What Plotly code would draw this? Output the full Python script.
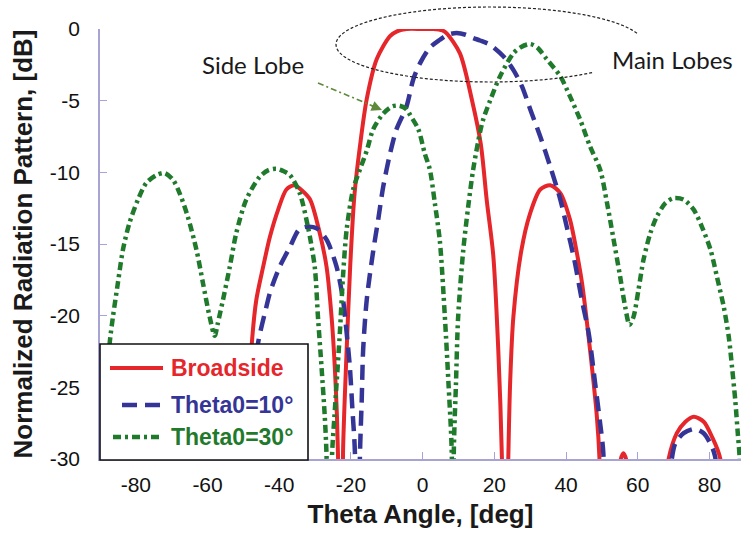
import numpy as np
import plotly.graph_objects as go

# ---------------- data ----------------
broadside_theta = [-90, -85, -83, -80.7, -78.4, -75.6, -73.3, -70.9, -68.6, -63, -58.5, -57, -56, -55, -53.5,
                   -50, -49.3, -48.7, -47.7, -46.4, -44.5, -42.6, -40.3, -38, -35.8, -33.5, -31.4, -28.7, -26.8,
                   -25.4, -24.5, -23.9, -23.6, -22.9, -22.2, -21.2, -20.2, -19, -17.5, -15.6, -12.8, -9.1, -7,
                   -4.5, 0, 3, 5.5, 6.7, 10.4, 13.7, 16.2, 17.9, 19.7, 21.1, 22.1, 22.9, 23.9, 24.4, 25.3, 27.5,
                   30, 32.8, 35.6, 38.4, 41.1, 43, 44.5, 46.7, 48.6, 49.3, 50, 53.5, 55, 56, 57, 58.5, 63, 68.6,
                   70.9, 73.3, 75.6, 78.4, 80.7, 83, 85, 89]
broadside_db = [-34, -40, -30, -28.45, -27.4, -27.05, -27.4, -28.2, -30, -42, -40, -30.3, -29.6, -30.3, -40,
                -40, -29.9, -27, -22.1, -18.9, -16.6, -14.5, -12.6, -11.2, -10.9, -11.3, -11.9, -14.25, -16.6,
                -20.1, -23.6, -27.05, -29.85, -45, -29.4, -22.4, -16.5, -11.5, -8.2, -4.9, -2.1, -0.5, -0.15,
                0, 0, 0, -0.1, -0.3, -1.7, -4.9, -8.0, -12.0, -15.8, -22.4, -29.85, -45, -29.85, -24.7, -20.1,
                -15.5, -12.85, -11.2, -10.9, -11.45, -13.3, -15.6, -17.8, -22.4, -27.05, -29.85, -40, -40,
                -30.3, -29.6, -30.3, -40, -42, -30, -28.2, -27.4, -27.05, -27.4, -28.45, -29.96, -40, -34]

theta10_theta = [-90, -85, -78, -72, -62, -55, -50, -48, -47, -45.9, -43.6, -42.6, -39.9, -37, -34.5, -32.4,
                 -29.6, -26.8, -24, -22.2, -21.2, -20.3, -19.6, -18.9, -18.3, -17.5, -17, -16.6, -15.6, -13.8,
                 -12.4, -11, -9.1, -7.3, -4.5, -2.6, -0.75, 2, 4.8, 7, 9.5, 12, 14.1, 16, 18.8, 22.5, 25.3,
                 27.7, 30, 32.8, 35.6, 38.4, 40.2, 42.3, 44.4, 46.3, 48.1, 49.5, 50.4, 51, 60, 65, 69.5, 70.5,
                 72.8, 76, 78.4, 80.2, 81.6, 82.5, 89]
theta10_db = [-35, -40, -31, -40, -33, -45, -30, -27, -24.5, -21.9, -19.4, -18.4, -16.6, -15.2, -14.0, -13.8,
              -13.9, -14.7, -16.6, -18.9, -21.2, -23.6, -26.5, -29.5, -45, -29.85, -25.9, -22.4, -18.9, -15.5,
              -13.3, -11.0, -8.7, -7.0, -5.4, -3.5, -2.4, -1.3, -0.75, -0.4, -0.28, -0.4, -0.63, -0.8, -1.1,
              -1.9, -2.85, -4.0, -5.6, -7.5, -9.6, -11.9, -13.8, -16.1, -18.9, -21.2, -24.7, -27.5, -29.6,
              -45, -36, -45, -30, -28.9, -28.2, -27.9, -28.2, -28.9, -29.85, -40, -36]

theta30_theta = [-90, -87.3, -86.4, -85, -83.6, -81.8, -79.4, -77.1, -74.3, -72, -69.7, -67.8, -65.5, -63.1,
                 -61.3, -59.4, -58, -57.2, -55.7, -53.8, -52, -49.2, -45.4, -43, -40.8, -39, -37, -34.3, -32,
                 -30.1, -29.2, -28.2, -27.3, -26.8, -26, -25.3, -24.6, -24, -23.1, -22.2, -21.2, -19.4, -17.5,
                 -15.6, -13.8, -11, -8.5, -6.5, -4.5, -3.5, -1.2, 0.6, 2, 3.4, 4.8, 6.2, 7.2, 8.1, 8.5, 8.7,
                 9.3, 9.9, 11.3, 12.7, 14.1, 16, 16.9, 18.8, 21.6, 25.3, 27.5, 30, 32, 34.6, 38.4, 41.1, 43.9,
                 46.7, 49.5, 51.4, 53.2, 55.1, 56.5, 57.7, 58.8, 60.2, 61.6, 63.5, 65.3, 67.7, 70, 72.8, 75.6,
                 77.9, 80.3, 82.1, 84, 85.4, 86.3, 87.2, 87.9, 88.4, 89]
theta30_db = [-30, -21.9, -20.1, -17.7, -15.4, -13.55, -11.9, -10.75, -10.2, -10.05, -10.5, -11.45, -13.1,
              -15.4, -17.7, -20.1, -21.4, -20.6, -18.9, -16.6, -14.25, -11.9, -10.3, -9.85, -9.75, -9.9,
              -10.2, -11.45, -13.8, -16.6, -20.1, -23.6, -27.05, -29.85, -45, -29.9, -27.0, -24.7, -21.2,
              -17.2, -14.0, -11.2, -9.8, -8.5, -7.0, -5.9, -5.4, -5.35, -5.6, -6.0, -7.0, -8.7, -9.8, -12.15,
              -14.8, -20.1, -24.7, -29.4, -45, -29.4, -24.7, -20.1, -15.5, -12.4, -9.8, -7.2, -6.3, -5.0,
              -3.3, -1.7, -1.25, -1.05, -1.3, -2.1, -3.3, -4.7, -6.3, -8.2, -9.8, -12.1, -14.6, -17.3, -19.4,
              -20.65, -20.1, -18.2, -16.1, -14.25, -13.1, -12.15, -11.8, -11.9, -12.6, -13.8, -15.4, -17.3,
              -19.4, -21.5, -23.6, -25.9, -28.2, -29.85, -40]

x_ticks = [-80, -60, -40, -20, 0, 20, 40, 60, 80]
y_ticks = [0, -5, -10, -15, -20, -25, -30]
series_names = ["Broadside", "Theta0=10°", "Theta0=30°"]

# ---------------- styling ----------------
RED = "#e5262b"
BLUE = "#353597"
GREEN = "#1f7a2b"
AXIS = "#a7a3d4"
FONT = "Liberation Sans, Arial, sans-serif"
NOTE_FONT = "Lato, Noto Sans, sans-serif"

W, H = 741, 533
ML, MR, MT, MB = 100, 0, 29, 74
PW, PH = W - ML - MR, H - MT - MB


def px(x):
    return (x - ML) / PW


def py(y):
    return (H - MB - y) / PH


fig = go.Figure()
fig.add_trace(go.Scatter(x=broadside_theta, y=broadside_db, mode="lines", name=series_names[0],
                         line=dict(color=RED, width=4, shape="spline", smoothing=0.8)))
fig.add_trace(go.Scatter(x=theta10_theta, y=theta10_db, mode="lines", name=series_names[1],
                         line=dict(color=BLUE, width=4.5, dash="15px,8px", shape="spline", smoothing=0.8)))
fig.add_trace(go.Scatter(x=theta30_theta, y=theta30_db, mode="lines", name=series_names[2],
                         line=dict(color=GREEN, width=4.5, dash="8px,4px,3px,4px", shape="spline", smoothing=0.8)))

shapes = []
annotations = []

# ellipse around main lobes (open on the right where the label sits)
cx, cy, a, b = 490, 44.5, 154, 37.5
t = np.radians(np.linspace(17.4, 312, 160))
ex = cx + a * np.cos(t)
ey = cy - b * np.sin(t)
path = "M " + " L ".join(f"{px(u):.5f},{py(v):.5f}" for u, v in zip(ex, ey))
shapes.append(dict(type="path", xref="paper", yref="paper", path=path,
                   line=dict(color="#222222", width=1.2, dash="3px,2px"), layer="above"))

# side lobe arrow (dash-dot)
shapes.append(dict(type="line", xref="paper", yref="paper", x0=px(318), y0=py(83), x1=px(374), y1=py(106.5),
                   line=dict(color="#5f8a3c", width=1.6, dash="6px,3px,2px,3px"), layer="above"))
annotations.append(dict(xref="paper", yref="paper", x=px(382), y=py(110), ax=-12, ay=-5, text="",
                        showarrow=True, arrowhead=2, arrowsize=1.3, arrowwidth=1.6, arrowcolor="#5f8a3c"))

annotations.append(dict(xref="paper", yref="paper", x=px(253), y=py(64), text="Side Lobe", showarrow=False,
                        font=dict(family=NOTE_FONT, size=24, color="#1a1a1a"), xanchor="center", yanchor="middle"))
annotations.append(dict(xref="paper", yref="paper", x=px(672), y=py(59), text="Main Lobes", showarrow=False,
                        font=dict(family=NOTE_FONT, size=24, color="#1a1a1a"), xanchor="center", yanchor="middle"))

# legend box (drawn manually to match the long line samples)
shapes.append(dict(type="rect", xref="paper", yref="paper", x0=px(100), x1=px(308), y0=py(460), y1=py(344),
                   fillcolor="white", line=dict(color="#111111", width=1.6), layer="above"))
legend_rows = [(368, RED, 4, "solid", 110), (405, BLUE, 4.5, "15px,8px", 122), (437, GREEN, 4.5, "8px,4px,3px,4px", 113)]
for (yy, col, wd, dsh, x0), name in zip(legend_rows, series_names):
    shapes.append(dict(type="line", xref="paper", yref="paper", x0=px(x0), x1=px(163), y0=py(yy), y1=py(yy),
                       line=dict(color=col, width=wd, dash=dsh), layer="above"))
    annotations.append(dict(xref="paper", yref="paper", x=px(169), y=py(yy), text=f"<b>{name}</b>",
                            showarrow=False, xanchor="left", yanchor="middle",
                            font=dict(family=FONT, size=23, color=col)))

fig.update_layout(
    width=W, height=H,
    margin=dict(l=ML, r=MR, t=MT, b=MB, autoexpand=False),
    paper_bgcolor="white", plot_bgcolor="white",
    showlegend=False,
    font=dict(family=FONT, color="#111111"),
    shapes=shapes, annotations=annotations,
)
fig.update_xaxes(range=[-90, 88.8], tickvals=x_ticks, ticktext=[str(v) for v in x_ticks],
                 showgrid=False, zeroline=False, showline=True, linecolor=AXIS, linewidth=1.5,
                 ticks="inside", ticklen=7, tickcolor=AXIS, tickwidth=1.3, automargin=False,
                 tickfont=dict(size=21, family=FONT, color="#111111"), ticklabelstandoff=6,
                 title=dict(text="<b>Theta Angle, [deg]</b>", font=dict(size=26, family=FONT, color="#1a1a1a"),
                            standoff=10))
fig.update_yaxes(range=[-30, 0], tickvals=y_ticks, ticktext=[str(v) for v in y_ticks],
                 showgrid=False, zeroline=False, showline=True, linecolor=AXIS, linewidth=1.5,
                 ticks="inside", ticklen=7, tickcolor=AXIS, tickwidth=1.3, automargin=False,
                 tickfont=dict(size=21, family=FONT, color="#111111"), ticklabelstandoff=14,
                 title=dict(text="<b>Normalized Radiation Pattern, [dB]</b>",
                            font=dict(size=26, family=FONT, color="#1a1a1a"), standoff=10))

fig.write_html("out.html", config={"displayModeBar": False},
               post_script="document.body.style.margin='0';document.body.style.overflow='hidden';")
